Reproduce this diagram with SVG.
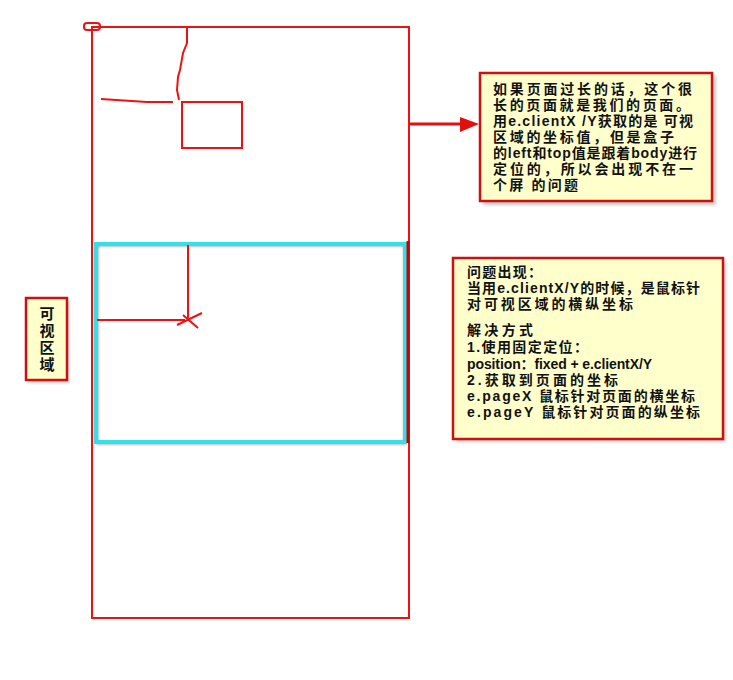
<svg xmlns="http://www.w3.org/2000/svg" width="733" height="680" viewBox="0 0 733 680">
<defs>
<style>
.r{fill:none;stroke:#ee1111;stroke-width:2}
.note{fill:#ffffcc;stroke:#cc1111;stroke-width:2.5}
.sh{fill:#9a9a9a;opacity:0.55}
.t{font-family:"Liberation Sans","Noto Sans CJK SC",sans-serif;font-size:14px;font-weight:bold;fill:#111}
.c{font-family:"Liberation Sans","Noto Sans CJK SC",sans-serif;font-size:14px;font-weight:bold;fill:#111}
.v{font-family:"Liberation Sans","Noto Sans CJK SC",sans-serif;font-size:15px;font-weight:bold;fill:#111}
</style>
<filter id="blur" x="-10%" y="-10%" width="120%" height="120%"><feGaussianBlur stdDeviation="1.5"/></filter>
</defs>
<rect width="733" height="680" fill="#ffffff"/>
<g id="page">
<rect class="r" x="92" y="27" width="317" height="591"/>
<rect x="84" y="23" width="16" height="7" rx="3" fill="none" stroke="#ee1111" stroke-width="2"/>
<path class="r" d="M187,27 L187,43 L183,53 L180,70 L178,77 L177,90 L179,100"/>
<path class="r" d="M101,99 L147,102 L173,102"/>
<rect class="r" x="182" y="102" width="60" height="46"/>
</g>
<g id="viewport">
<rect x="97" y="245" width="308" height="198" fill="none" stroke="#444" stroke-width="1.5" filter="url(#blur)"/>
<rect x="96" y="244" width="309" height="198" fill="none" stroke="#33e0e8" stroke-width="4"/>
<line x1="408" y1="241" x2="408" y2="443" stroke="#cc0000" stroke-width="3"/>
<path class="r" d="M188,245 L188,318"/>
<path class="r" d="M97,320 L185,320"/>
<path class="r" d="M177,325 L202,313 M183,315 L198,328"/>
</g>
<g id="connectors">
<line x1="411" y1="126" x2="463" y2="126" stroke="#999" stroke-width="3" filter="url(#blur)"/>
<line x1="410" y1="124" x2="462" y2="124" stroke="#e01010" stroke-width="3"/>
<polygon points="460,117 479,124 460,132" fill="#e01010"/>
</g>
<g id="note1">
<rect class="sh" x="483" y="76" width="233" height="129" filter="url(#blur)"/>
<rect class="note" x="480" y="73" width="232" height="128"/>
<text class="c" x="493" y="94" textLength="199" lengthAdjust="spacing">如果页面过长的话，这个很</text>
<text class="c" x="493" y="110" textLength="197" lengthAdjust="spacing">长的页面就是我们的页面。</text>
<text class="c" x="493" y="126" textLength="200" lengthAdjust="spacing">用e.clientX /Y获取的是 可视</text>
<text class="c" x="493" y="142" textLength="181" lengthAdjust="spacing">区域的坐标值，但是盒子</text>
<text class="c" x="493" y="158" textLength="204" lengthAdjust="spacing">的left和top值是跟着body进行</text>
<text class="c" x="493" y="174" textLength="200" lengthAdjust="spacing">定位的，所以会出现不在一</text>
<text class="c" x="493" y="190" textLength="85" lengthAdjust="spacing">个屏 的问题</text>
</g>
<g id="note2">
<rect class="sh" x="456" y="261" width="270" height="181" filter="url(#blur)"/>
<rect class="note" x="453" y="258" width="270" height="181"/>
<text class="t" x="467" y="277" textLength="75" lengthAdjust="spacing">问题出现：</text>
<text class="t" x="467" y="293" textLength="233" lengthAdjust="spacing">当用e.clientX/Y的时候，是鼠标针</text>
<text class="t" x="467" y="309" textLength="166" lengthAdjust="spacing">对可视区域的横纵坐标</text>
<text class="t" x="467" y="335" textLength="66" lengthAdjust="spacing">解决方式</text>
<text class="t" x="467" y="352" textLength="121" lengthAdjust="spacing">1.使用固定定位：</text>
<text class="t" x="467" y="369" textLength="185" lengthAdjust="spacing" font-size="13">position：fixed  + e.clientX/Y</text>
<text class="t" x="467" y="385" textLength="151" lengthAdjust="spacing">2.获取到页面的坐标</text>
<text class="t" x="467" y="401" textLength="228" lengthAdjust="spacing">e.pageX  鼠标针对页面的横坐标</text>
<text class="t" x="467" y="417" textLength="233" lengthAdjust="spacing">e.pageY   鼠标针对页面的纵坐标</text>
</g>
<g id="label">
<rect class="sh" x="29" y="301" width="40" height="82" filter="url(#blur)"/>
<rect class="note" x="26" y="298" width="41" height="82"/>
<text class="v" x="47" y="319" text-anchor="middle">可</text>
<text class="v" x="47" y="336" text-anchor="middle">视</text>
<text class="v" x="47" y="353" text-anchor="middle">区</text>
<text class="v" x="47" y="370" text-anchor="middle">域</text>
</g>
</svg>
